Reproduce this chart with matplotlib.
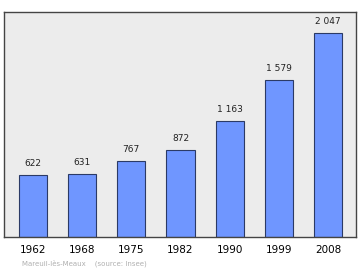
import matplotlib
matplotlib.use("Agg")
import matplotlib.pyplot as plt

# population data
years = ["1962", "1968", "1975", "1982", "1990", "1999", "2008"]
population = [622, 631, 767, 872, 1163, 1579, 2047]
value_labels = ["622", "631", "767", "872", "1 163", "1 579", "2 047"]

fig = plt.figure(figsize=(3.6, 2.7), dpi=100)
ax = fig.add_axes([4/360, 1 - 237/270, 352/360, 225/270])
ax.set_facecolor("#ececec")

x = range(len(years))
ax.bar(x, population, width=0.57, color="#6f96ff", edgecolor="#2b3a66", linewidth=0.8)

for i, (v, lab) in enumerate(zip(population, value_labels)):
    ax.text(i, v + 70, lab, ha="center", va="bottom", fontsize=6.5, color="#222222")

ax.set_xlim(-0.59, 6.57)
ax.set_ylim(0, 2257)
ax.set_xticks(list(x))
ax.set_xticklabels(years, fontsize=7.5)
ax.tick_params(axis="x", length=0, pad=6)
ax.set_yticks([])
for s in ax.spines.values():
    s.set_color("#444444")
    s.set_linewidth(1.0)

fig.text(22/360, 1 - 263/270, "Mareuil-lès-Meaux    (source: Insee)", fontsize=5,
         color="#b0b0b0", va="center")

plt.savefig("out.png", dpi=100)
